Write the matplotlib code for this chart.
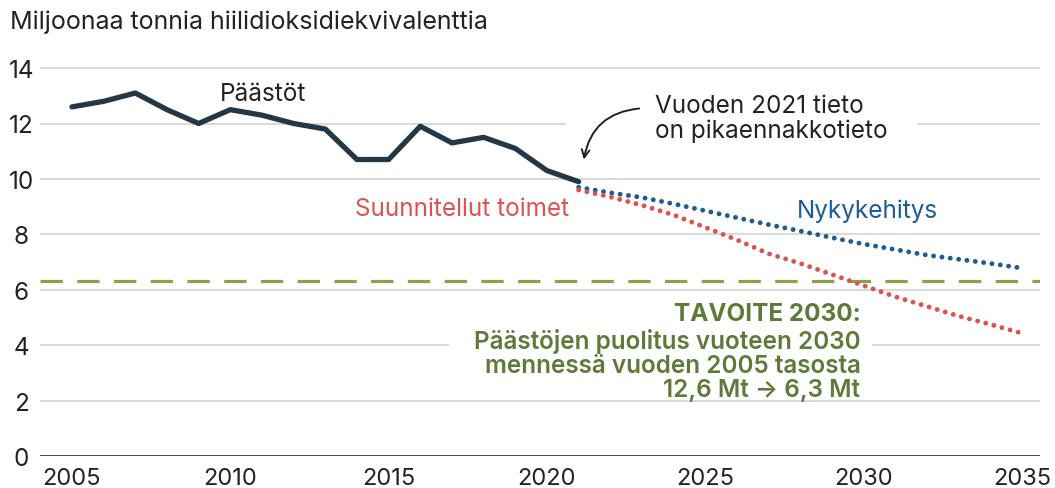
import matplotlib
matplotlib.use("Agg")
import matplotlib.pyplot as plt
from matplotlib.patches import Rectangle

plt.rcParams['font.family'] = ['Inter', 'DejaVu Sans']

# ---- data ----
hist_years = list(range(2005, 2022))
hist_values = [12.6, 12.8, 13.1, 12.5, 12.0, 12.5, 12.3, 12.0, 11.8, 10.7, 10.7,
               11.9, 11.3, 11.5, 11.1, 10.3, 9.9]

proj_years = list(range(2021, 2036))
current_trend = [9.7, 9.5, 9.33, 9.1, 8.85, 8.6, 8.35, 8.12, 7.88, 7.65, 7.45,
                 7.25, 7.1, 6.95, 6.78]
planned_measures = [9.6, 9.35, 9.05, 8.7, 8.25, 7.8, 7.3, 6.95, 6.55, 6.15, 5.75,
                    5.4, 5.05, 4.75, 4.43]

target_2030 = 6.3
y_ticks = [0, 2, 4, 6, 8, 10, 12, 14]
x_ticks = [2005, 2010, 2015, 2020, 2025, 2030, 2035]

title = "Miljoonaa tonnia hiilidioksidiekvivalenttia"
lbl_hist = "Päästöt"
lbl_note = "Vuoden 2021 tieto\non pikaennakkotieto"
lbl_planned = "Suunnitellut toimet"
lbl_trend = "Nykykehitys"
lbl_target_head = "TAVOITE 2030:"
lbl_target_body = "Päästöjen puolitus vuoteen 2030\nmennessä vuoden 2005 tasosta\n12,6 Mt → 6,3 Mt"

# ---- colors ----
c_hist = "#243746"
c_red = "#d9534f"
c_blue = "#1c5b96"
c_green_line = "#8fa04a"
c_green_text = "#5f7a38"
c_grid = "#d6d6d6"
c_text = "#222222"

FS = 17.5

fig = plt.figure(figsize=(10.55, 4.89), dpi=100)
ax = fig.add_axes([40/1055, 32/489, 1000/1055, (457-58)/489])
ax.set_xlim(2003.99, 2035.57)
ax.set_ylim(0, 14.4)

for s in ax.spines.values():
    s.set_visible(False)

# grid lines
for yv in y_ticks[1:]:
    ax.axhline(yv, color=c_grid, lw=1.3, zorder=1)
ax.axhline(0, color="#3a3a3a", lw=2.0, zorder=2)

# white gaps in gridlines behind annotations
ax.add_patch(Rectangle((2020.6, 11.8), 11.1, 0.4, facecolor="white", edgecolor="none", zorder=1.5))
ax.add_patch(Rectangle((2016.9, 3.8), 13.35, 0.4, facecolor="white", edgecolor="none", zorder=1.5))

# target dashed line
ax.axhline(target_2030, color=c_green_line, lw=2.3, linestyle=(0, (7.0, 4.5)), zorder=2.5)

# projections (dotted)
ax.plot(proj_years, current_trend, color=c_blue, lw=3.5, linestyle=(0, (0.01, 1.72)),
        dash_capstyle="round", zorder=3)
ax.plot(proj_years, planned_measures, color=c_red, lw=3.5, linestyle=(0, (0.01, 1.72)),
        dash_capstyle="round", zorder=3)

# historical
ax.plot(hist_years, hist_values, color=c_hist, lw=3.8, solid_capstyle="round",
        solid_joinstyle="round", zorder=4)

ax.set_xticks(x_ticks)
ax.set_yticks(y_ticks)
ax.tick_params(axis="both", length=0, labelsize=FS, labelcolor=c_text)
ax.tick_params(axis="x", labelsize=17)
ax.tick_params(axis="y", pad=13.5)
ax.tick_params(axis="x", pad=8)
for t in ax.get_yticklabels():
    t.set_horizontalalignment("center")

fig.text(10/1055, 1 - 22/489, title, fontsize=18, color=c_text, ha="left", va="center")

ax.text(2011.03, 13.1, lbl_hist, fontsize=FS, color=c_text, ha="center", va="center", zorder=5)
ax.text(2023.4, 12.2, lbl_note, fontsize=FS, color=c_text, ha="left", va="center",
        linespacing=1.05, zorder=5)
ax.annotate("", xy=(2021.15, 10.6), xytext=(2023.0, 12.55),
            arrowprops=dict(arrowstyle="->", color=c_text, lw=1.4,
                            connectionstyle="arc3,rad=0.4", mutation_scale=14),
            zorder=5)
ax.text(2020.7, 8.92, lbl_planned, fontsize=FS, color=c_red, ha="right", va="center", zorder=5)
ax.text(2027.9, 8.88, lbl_trend, fontsize=FS, color=c_blue, ha="left", va="center", zorder=5)
ax.text(2029.9, 5.16, lbl_target_head, fontsize=FS, color=c_green_text, ha="right",
        va="center", fontweight="bold", zorder=5)
ax.text(2029.9, 3.3, lbl_target_body, fontsize=FS, color=c_green_text, ha="right",
        va="center", fontweight="semibold", linespacing=1.05, zorder=5)

fig.savefig("out.png", dpi=100)
